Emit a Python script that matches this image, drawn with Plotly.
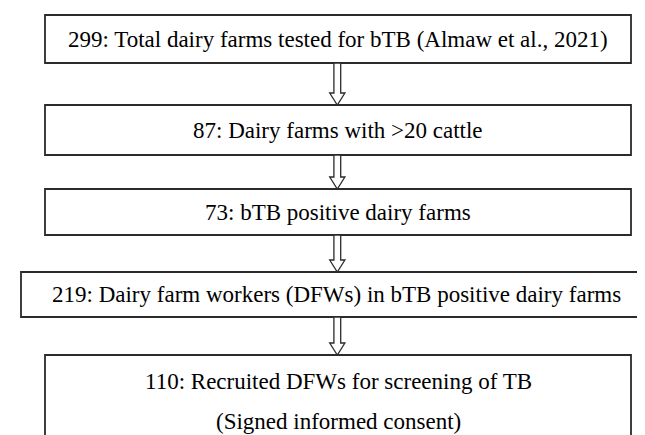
import plotly.graph_objects as go

# Data: flowchart steps (count, description)
counts = [299, 87, 73, 219, 110]
descriptions = [
    "Total dairy farms tested for bTB (Almaw et al., 2021)",
    "Dairy farms with >20 cattle",
    "bTB positive dairy farms",
    "Dairy farm workers (DFWs) in bTB positive dairy farms",
    "Recruited DFWs for screening of TB",
]
subnotes = ["", "", "", "", "(Signed informed consent)"]

# Layout geometry (pixel coordinates): x0, x1, y0, y1
boxes = [
    (37, 623, 7, 55),
    (37, 623, 97, 147),
    (37, 623, 181, 227),
    (13, 643, 264, 309),
    (37, 623, 347, 433),
]

W, H = 645, 435
fig = go.Figure()
fig.add_trace(go.Scatter(x=[0, W], y=[0, H], mode="markers",
                         marker=dict(opacity=0), hoverinfo="skip", showlegend=False))

shapes = []
annotations = []
FONT = dict(family="Liberation Serif", size=23, color="black")

for i, (x0, x1, y0, y1) in enumerate(boxes):
    shapes.append(dict(type="rect", x0=x0, x1=x1, y0=y0, y1=y1, xref="x", yref="y",
                       line=dict(color="#2b2b2b", width=1.8), fillcolor="white", layer="below"))
    label = f"{counts[i]}: {descriptions[i]}"
    if subnotes[i]:
        annotations.append(dict(x=(x0 + x1) / 2, y=y0 + 26, text=label, showarrow=False,
                                xref="x", yref="y", font=FONT, xanchor="center", yanchor="middle"))
        annotations.append(dict(x=(x0 + x1) / 2, y=y0 + 66, text=subnotes[i], showarrow=False,
                                xref="x", yref="y", font=FONT, xanchor="center", yanchor="middle"))
    else:
        annotations.append(dict(x=(x0 + x1) / 2, y=(y0 + y1) / 2, text=label, showarrow=False,
                                xref="x", yref="y", font=FONT, xanchor="center", yanchor="middle"))

# Hollow block arrows between boxes
cx = 329.3
sw, hw, hh = 3.4, 7.6, 12
for i in range(len(boxes) - 1):
    top = boxes[i][3]
    tip = boxes[i + 1][2]
    neck = tip - hh
    path = (f"M {cx - sw} {top} L {cx - sw} {neck} L {cx - hw} {neck} L {cx} {tip} "
            f"L {cx + hw} {neck} L {cx + sw} {neck} L {cx + sw} {top} Z")
    shapes.append(dict(type="path", path=path, xref="x", yref="y",
                       line=dict(color="#2b2b2b", width=1.3), fillcolor="white"))

fig.update_layout(
    width=W, height=H,
    margin=dict(l=0, r=0, t=0, b=0),
    paper_bgcolor="white", plot_bgcolor="white",
    xaxis=dict(range=[0, W], visible=False, fixedrange=True),
    yaxis=dict(range=[H, 0], visible=False, fixedrange=True),
    shapes=shapes, annotations=annotations,
    showlegend=False,
)

fig.write_html("out.html")
